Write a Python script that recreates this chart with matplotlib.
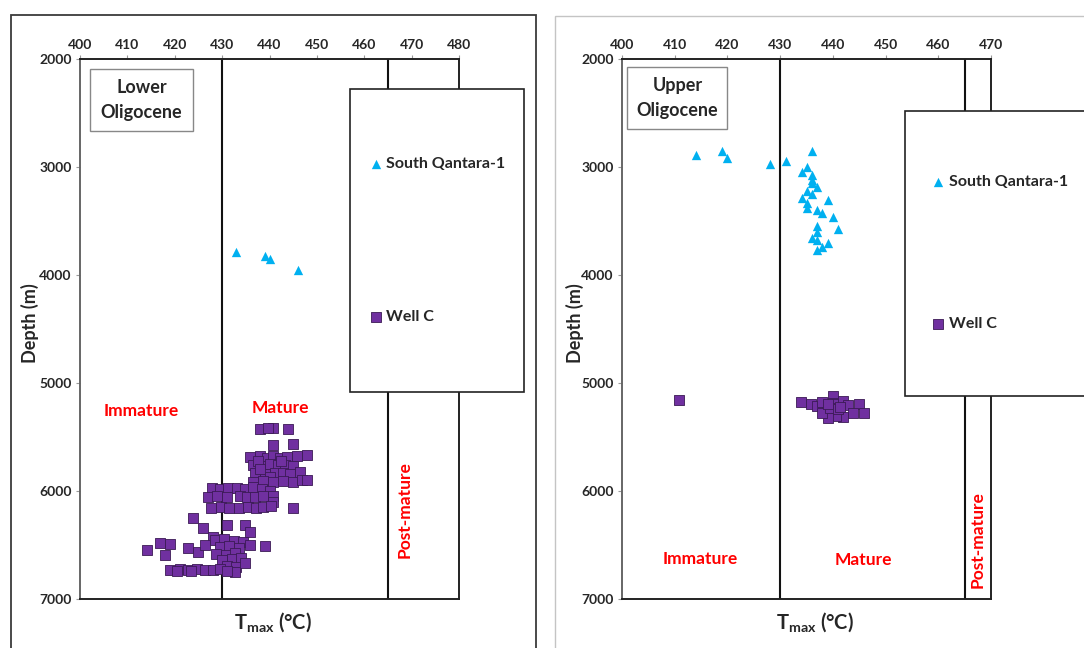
import matplotlib
matplotlib.use("Agg")
import matplotlib.pyplot as plt
from matplotlib.patches import Rectangle

# ---- data ----
# Lower Oligocene, South Qantara-1 (Tmax degC, depth m)
lo_sq_tmax = [433, 439, 440, 446]
lo_sq_depth = [3790, 3820, 3850, 3950]

# Lower Oligocene, Well C
lo_wc_tmax = [438, 440.7, 443.9, 439.7, 440.7, 445,
              435.9, 438, 439.5, 440.7, 442.2, 443.7, 445.8, 447.9,
              436.5, 438.4, 440.1, 441.8, 443.2, 444.9, 437.5, 442.5,
              436.9, 439, 441.1, 442.8, 444.3, 446.5, 438, 440,
              436.5, 438.6, 440.7, 442.8, 444.9, 446.9, 447.9,
              427.8, 429.5, 431.2, 433.1, 434.8, 436.5, 438.4, 440.2,
              427, 428.9, 431, 433.8, 435.2, 436.9, 438.6, 440.7, 440.7,
              427.6, 429.7, 431.5, 433.6, 435.4, 437.1, 438.6, 440.3, 444.9,
              423.8, 425.9, 431, 434.8, 435.9, 428.1,
              414.1, 416.9, 419, 418, 422.8, 424.9, 426.4, 439,
              428.5, 430.5, 432.5, 434.5, 429.5, 431.5, 433.5, 435.8,
              428.8, 430.8, 432.8, 430, 432, 434, 431, 433,
              434.8, 432.7,
              419, 421.1, 422.8, 424.7, 426.4, 428.1, 429.5, 431, 420.5, 423.5]
lo_wc_depth = [5426, 5417, 5426, 5420, 5574, 5565,
               5685, 5680, 5690, 5675, 5690, 5685, 5680, 5670,
               5759, 5765, 5750, 5760, 5755, 5765, 5720, 5725,
               5833, 5840, 5830, 5835, 5840, 5820, 5800, 5870,
               5917, 5910, 5920, 5905, 5915, 5900, 5898,
               5972, 5980, 5970, 5975, 5985, 5965, 5980, 6000,
               6056, 6050, 6060, 6045, 6055, 6060, 6050, 6045, 6100,
               6157, 6150, 6160, 6155, 6150, 6160, 6145, 6140, 6157,
               6250, 6343, 6315, 6315, 6380, 6426,
               6546, 6481, 6491, 6593, 6528, 6565, 6500, 6509,
               6450, 6440, 6460, 6470, 6520, 6510, 6530, 6500,
               6580, 6590, 6570, 6640, 6630, 6620, 6690, 6700,
               6667, 6750,
               6731, 6720, 6735, 6725, 6735, 6730, 6725, 6740, 6745, 6740]

# Upper Oligocene, South Qantara-1
uo_sq_tmax = [414, 418.9, 420, 428.1, 431.1, 436, 435, 434.1, 436, 436,
              436, 436.9, 435, 436, 434.1, 439.1, 435, 435, 436.9, 438,
              440, 436.9, 441, 436.9, 436, 436.9, 439.1, 438, 436.9]
uo_sq_depth = [2889, 2849, 2920, 2975, 2944, 2852, 2997, 3043, 3074, 3120,
               3151, 3188, 3219, 3250, 3284, 3305, 3330, 3377, 3398, 3429,
               3460, 3546, 3574, 3598, 3660, 3676, 3707, 3744, 3769]

# Upper Oligocene, Well C
uo_wc_tmax = [410.9, 433.9, 435.8, 436.9, 438, 440, 440, 440.8, 441.9, 442.9,
              445, 445.9, 443.9, 442, 440.6, 439, 437.9, 439.5, 441, 441.4,
              439.1]
uo_wc_depth = [5157, 5179, 5194, 5210, 5173, 5120, 5182, 5194, 5163, 5203,
               5194, 5274, 5280, 5312, 5305, 5321, 5280, 5234, 5243, 5219,
               5194]

boundaries = [430, 465]
depth_ticks = [2000, 3000, 4000, 5000, 6000, 7000]

plt.rcParams['font.family'] = ['Lato', 'DejaVu Sans']
plt.rcParams['mathtext.fontset'] = 'custom'
plt.rcParams['mathtext.rm'] = 'Lato:bold'
plt.rcParams['mathtext.it'] = 'Lato:bold'
plt.rcParams['mathtext.bf'] = 'Lato:bold'

W, H = 1084, 648
fig = plt.figure(figsize=(W / 100, H / 100), dpi=100)

# panel frames
fig.patches.append(Rectangle((11 / W, -0.1), 525 / W, 1.1 - 15 / H, transform=fig.transFigure,
                             fill=False, ec='#3a3a3a', lw=1.3))
fig.patches.append(Rectangle((555 / W, -0.1), 0.6, 1.1 - 16 / H, transform=fig.transFigure,
                             fill=False, ec='#c4c4c4', lw=1.0))

SQ_COL = '#00B0F0'
WC_COL = '#7030A0'
RED = '#FF0000'
TXT = '#262626'


def make_panel(rect, xmax, xticks, sq_x, sq_y, wc_x, wc_y, title, leg_box, leg_sq, leg_wc,
               title_box, labels):
    ax = fig.add_axes(rect)
    ax.set_xlim(400, xmax)
    ax.set_ylim(7000, 2000)
    ax.xaxis.tick_top()
    ax.set_xticks(xticks)
    ax.set_yticks(depth_ticks)
    ax.tick_params(axis='both', labelsize=10, length=3, color='#999999', pad=3)
    for lab in ax.get_xticklabels() + ax.get_yticklabels():
        lab.set_fontweight('bold')
        lab.set_color(TXT)
    for side, sp in ax.spines.items():
        sp.set_color('#222222')
        sp.set_linewidth(1.4)
    ax.spines['left'].set_color('#666666')

    for b in boundaries:
        ax.axvline(b, color='#111111', lw=1.5, zorder=1)

    ax.scatter(wc_x, wc_y, marker='s', s=56, color=WC_COL, edgecolor='#3b1a55',
               linewidth=0.6, zorder=3)
    ax.scatter(sq_x, sq_y, marker='^', s=45, color=SQ_COL, linewidth=0, zorder=3)

    # legend box (extends beyond the axes)
    x0, x1, y0, y1 = leg_box
    ax.add_patch(Rectangle((x0, y0), x1 - x0, y1 - y0, fc='white', ec='#222222',
                           lw=1.2, clip_on=False, zorder=4))
    ax.scatter([leg_sq[0]], [leg_sq[1]], marker='^', s=45, color=SQ_COL, lw=0,
               clip_on=False, zorder=5)
    ax.text(leg_sq[0] + 2.2, leg_sq[1], 'South Qantara-1', fontsize=11.5, fontweight='bold',
            va='center', ha='left', color=TXT, zorder=5, clip_on=False)
    ax.scatter([leg_wc[0]], [leg_wc[1]], marker='s', s=56, color=WC_COL, edgecolor='#3b1a55',
               lw=0.6, clip_on=False, zorder=5)
    ax.text(leg_wc[0] + 2.2, leg_wc[1], 'Well C', fontsize=11.5, fontweight='bold',
            va='center', ha='left', color=TXT, zorder=5, clip_on=False)

    # title box
    tx0, tx1, ty0, ty1 = title_box
    ax.add_patch(Rectangle((tx0, ty0), tx1 - tx0, ty1 - ty0, fc='white', ec='#888888',
                           lw=1.0, zorder=4))
    ax.text((tx0 + tx1) / 2, (ty0 + ty1) / 2, title, fontsize=13, fontweight='bold',
            ha='center', va='center', linespacing=1.55, color=TXT, zorder=5)

    (imx, imy), (mx, my), (px, py) = labels
    ax.text(imx, imy, 'Immature', color=RED, fontsize=12.5, fontweight='bold',
            ha='center', va='center')
    ax.text(mx, my, 'Mature', color=RED, fontsize=12.5, fontweight='bold',
            ha='center', va='center')
    ax.text(px, py, 'Post-mature', color=RED, fontsize=12.5, fontweight='bold',
            ha='center', va='center', rotation=90)
    return ax


ax1 = make_panel([80 / W, 1 - 599 / H, 379 / W, 540 / H], 480,
                 [400, 410, 420, 430, 440, 450, 460, 470, 480],
                 lo_sq_tmax, lo_sq_depth, lo_wc_tmax, lo_wc_depth,
                 'Lower\nOligocene',
                 (457, 493.7, 2278, 5083), (462.4, 2972), (462.4, 4389),
                 (402.1, 423.8, 2093, 2667),
                 [(412.9, 5259), (442.2, 5231), (468.6, 6176)])

ax2 = make_panel([622 / W, 1 - 599 / H, 369 / W, 540 / H], 470,
                 [400, 410, 420, 430, 440, 450, 460, 470],
                 uo_sq_tmax, uo_sq_depth, uo_wc_tmax, uo_wc_depth,
                 'Upper\nOligocene',
                 (453.7, 500, 2481, 5120), (459.9, 3139), (459.9, 4454),
                 (401.0, 420.0, 2074, 2648),
                 [(414.8, 6630), (445.7, 6639), (467.5, 6454)])

for xc, yc in [(30, 323), (575, 323)]:
    fig.text(xc / W, 1 - yc / H, 'Depth (m)', rotation=90, fontsize=13, fontweight='bold',
             ha='center', va='center', color=TXT)
for xc in [273, 815]:
    fig.text(xc / W, 1 - 622 / H, r'T$_{\mathrm{max}}$ (°C)', fontsize=14.5, fontweight='bold',
             ha='center', va='center', color=TXT)

fig.savefig('out.png', dpi=100)
